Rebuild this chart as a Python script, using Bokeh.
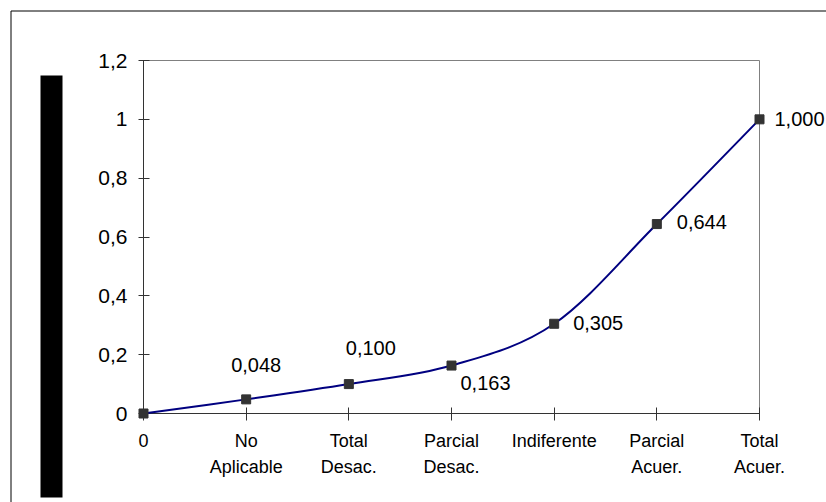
from bokeh.plotting import figure
from bokeh.models import ColumnDataSource, FixedTicker, Range1d
from bokeh.core.properties import value
from bokeh.embed import file_html
from bokeh.resources import INLINE

# ---- data ----
categories = ["0", "No\nAplicable", "Total\nDesac.", "Parcial\nDesac.", "Indiferente", "Parcial\nAcuer.", "Total\nAcuer."]
values = [0.0, 0.048, 0.100, 0.163, 0.305, 0.644, 1.000]
value_labels = ["", "0,048", "0,100", "0,163", "0,305", "0,644", "1,000"]
y_ticks = [0, 0.2, 0.4, 0.6, 0.8, 1.0, 1.2]
y_tick_labels = ["0", "0,2", "0,4", "0,6", "0,8", "1", "1,2"]

# label placement (screen px, styling only; positive dy = down)
label_dx = [0, 10, 22, 34, 44, 45, 40]
label_dy = [0, -34, -36, 17, -1, -2, 0]

FONT = "Liberation Sans"
xs = list(range(len(categories)))

W, H = 826, 502
FL, FT, FR, FB = 143, 60, 759, 413   # plot-area box in pixels

p = figure(width=W, height=H, output_backend="svg", toolbar_location=None,
           x_range=Range1d(0, len(categories) - 1), y_range=Range1d(0, 1.2),
           min_border_left=FL, min_border_right=W - FR, min_border_top=FT, min_border_bottom=H - FB)
p.background_fill_color = "white"
p.border_fill_color = "white"
p.outline_line_color = "#808080"
p.outline_line_width = 1
p.grid.visible = False

# pixel ranges for page decorations (outer frame, side bar)
p.extra_x_ranges = {"px": Range1d(FL, FR)}
p.extra_y_ranges = {"px": Range1d(FB, FT)}

# axes
p.xaxis.ticker = FixedTicker(ticks=xs)
p.xaxis.major_label_overrides = {i: c for i, c in zip(xs, categories)}
p.yaxis.ticker = FixedTicker(ticks=y_ticks)
p.yaxis.major_label_overrides = {t: l for t, l in zip(y_ticks, y_tick_labels)}
for ax in (p.xaxis, p.yaxis):
    ax.axis_line_color = "#333333"
    ax.major_tick_line_color = "#333333"
    ax.minor_tick_line_color = None
    ax.major_label_text_font = FONT
    ax.major_label_text_color = "black"
p.xaxis.major_tick_in = 6
p.xaxis.major_tick_out = 7
p.xaxis.major_label_text_font_size = "18px"
p.xaxis.major_label_text_line_height = 1.33
p.xaxis.major_label_standoff = 10
p.yaxis.major_tick_in = 6
p.yaxis.major_tick_out = 5
p.yaxis.major_label_text_font_size = "21px"
p.yaxis.major_label_standoff = 11

# smoothed line (Bezier segments through the data points)
n = len(values)
x0, y0, x1, y1, cx0, cy0, cx1, cy1 = [], [], [], [], [], [], [], []
for i in range(n - 1):
    xp = xs[i - 1] if i > 0 else xs[i]
    yp = values[i - 1] if i > 0 else values[i]
    xn = xs[i + 2] if i + 2 < n else xs[i + 1]
    yn = values[i + 2] if i + 2 < n else values[i + 1]
    x0.append(xs[i]); y0.append(values[i])
    x1.append(xs[i + 1]); y1.append(values[i + 1])
    cx0.append(xs[i] + (xs[i + 1] - xp) / 6.0)
    cy0.append(values[i] + (values[i + 1] - yp) / 6.0)
    cx1.append(xs[i + 1] - (xn - xs[i]) / 6.0)
    cy1.append(values[i + 1] - (yn - values[i]) / 6.0)
p.bezier(x0=x0, y0=y0, x1=x1, y1=y1, cx0=cx0, cy0=cy0, cx1=cx1, cy1=cy1,
         line_color="#000080", line_width=2, level="overlay")

src = ColumnDataSource(dict(x=xs, y=values, lbl=value_labels, dx=label_dx, dy=label_dy))
p.scatter("x", "y", source=src, marker="square", size=9, fill_color="#333333",
          line_color="#333333", level="overlay")

# data labels (overlay level so the last one is not clipped at the plot edge)
p.text(x="x", y="y", text="lbl", source=src, x_offset="dx", y_offset="dy",
       text_align="center", text_baseline="middle", text_font=value(FONT),
       text_font_size="20px", text_color="black", level="overlay")

# outer chart border (left and top edges visible) and black side bar
p.segment(x0=[10.5, 10.5], y0=[10.5, 10.5], x1=[10.5, W + 5], y1=[H + 5, 10.5],
          line_color="black", line_width=1, x_range_name="px", y_range_name="px", level="overlay")
p.quad(left=[40], right=[62], top=[75], bottom=[497], fill_color="black", line_color=None,
       x_range_name="px", y_range_name="px", level="overlay")

open("out.html", "w").write(file_html(p, INLINE))
